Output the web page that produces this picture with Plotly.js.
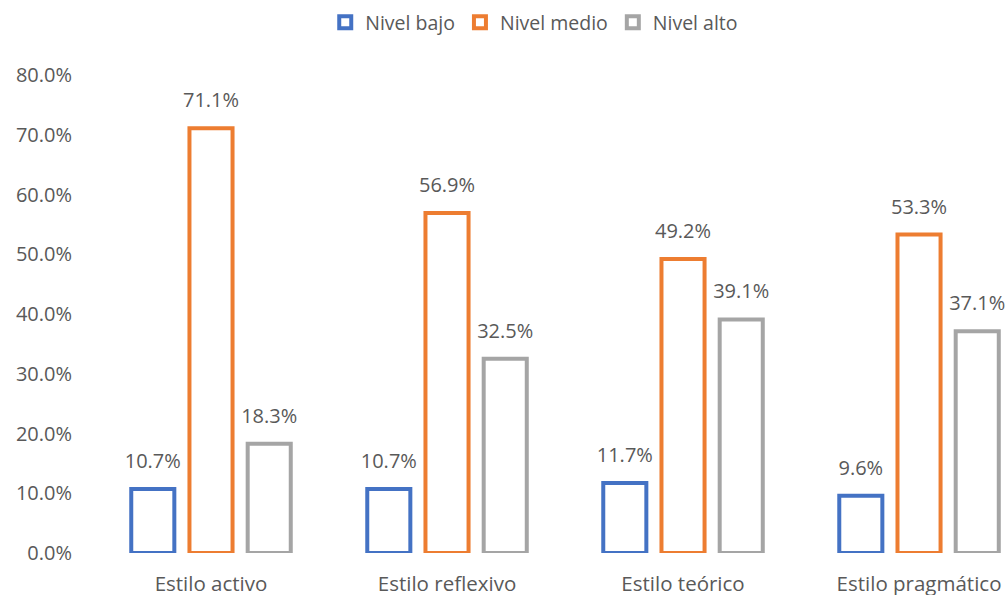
<!DOCTYPE html>
<html>
<head>
<meta charset="utf-8">
<script src="https://cdn.plot.ly/plotly-3.0.1.min.js"></script>
<style>html,body{margin:0;padding:0;background:#fff;}#chart{width:1008px;height:595px;}</style>
</head>
<body>
<div id="chart"></div>
<script>
const categories = ["Estilo activo", "Estilo reflexivo", "Estilo teórico", "Estilo pragmático"];
const seriesNames = ["Nivel bajo", "Nivel medio", "Nivel alto"];
const nivelBajo = [0.107, 0.107, 0.117, 0.096];
const nivelMedio = [0.711, 0.569, 0.492, 0.533];
const nivelAlto = [0.183, 0.325, 0.391, 0.371];
const yTicks = [0, 0.1, 0.2, 0.3, 0.4, 0.5, 0.6, 0.7, 0.8];

const colors = ["#4472C4", "#ED7D31", "#A5A5A5"];
const FONT = "Open Sans, Noto Sans, sans-serif";
const GRAY = "#595959";

const series = [nivelBajo, nivelMedio, nivelAlto];
const barTraces = series.map((vals, i) => ({
  type: "bar",
  name: seriesNames[i],
  x: categories,
  y: vals,
  offsetgroup: "g" + i,
  marker: { color: "#ffffff", line: { color: colors[i], width: 4 } },
  hoverinfo: "none"
}));
const labelTraces = series.map((vals, i) => ({
  type: "scatter",
  mode: "markers+text",
  showlegend: false,
  x: categories,
  y: vals,
  offsetgroup: "g" + i,
  marker: { size: 24, opacity: 0, color: colors[i] },
  text: vals.map(v => (v * 100).toFixed(1) + "%"),
  textposition: "top center",
  cliponaxis: false,
  textfont: { family: FONT, size: 20, color: GRAY },
  hoverinfo: "none"
}));

const layout = {
  width: 1008,
  height: 595,
  paper_bgcolor: "#ffffff",
  plot_bgcolor: "#ffffff",
  margin: { l: 93, r: 0, t: 75, b: 42 },
  barmode: "group",
  bargap: 0.26,
  bargroupgap: 0.26,
  scattermode: "group",
  scattergap: 0.26,
  font: { family: FONT, color: GRAY },
  showlegend: true,
  legend: {
    orientation: "h",
    xref: "container", yref: "container",
    x: 0.53, xanchor: "center",
    y: 0.995, yanchor: "top",
    font: { family: FONT, size: 19.5, color: GRAY },
    itemwidth: 30,
    traceorder: "normal"
  },
  xaxis: {
    type: "category",
    range: [-0.5, 3.377],
    showgrid: false,
    showline: false,
    zeroline: false,
    ticks: "",
    tickfont: { family: FONT, size: 20.5, color: GRAY },
    ticklabelstandoff: 16
  },
  yaxis: {
    range: [0, 0.8],
    tickvals: yTicks,
    tickformat: ".1%",
    showgrid: false,
    showline: false,
    zeroline: false,
    ticks: "",
    tickfont: { family: FONT, size: 20, color: GRAY },
    ticklabelstandoff: 20
  }
};

Plotly.newPlot("chart", barTraces.concat(labelTraces), layout, { displayModeBar: false, staticPlot: true });
</script>
</body>
</html>
